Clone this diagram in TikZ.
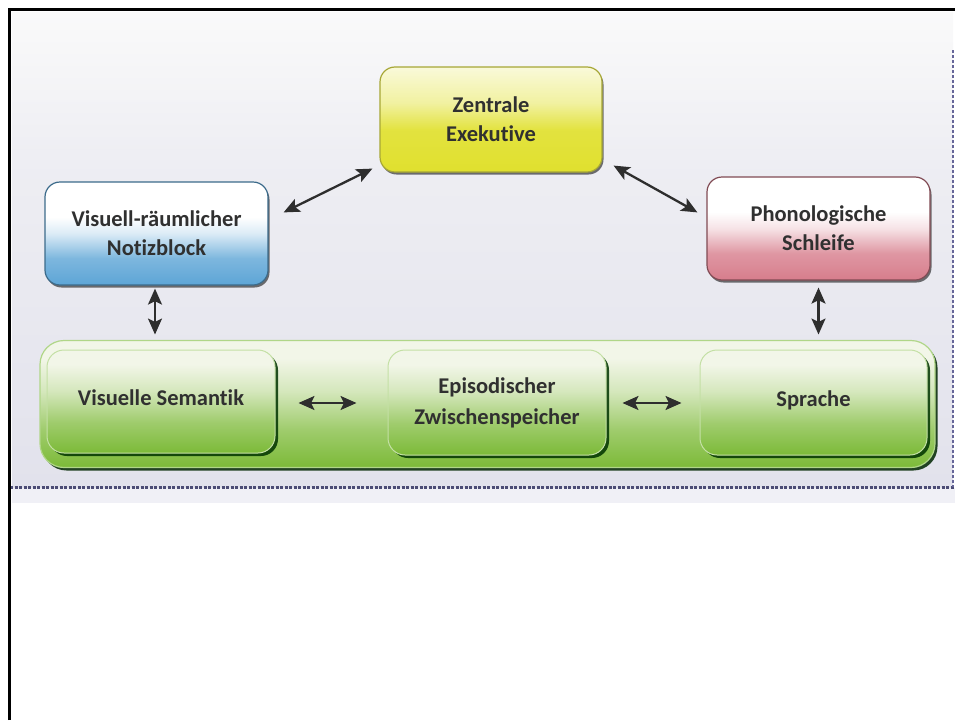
\documentclass[tikz,border=0pt]{standalone}
\usepackage{fontspec}
\setmainfont[Ligatures={NoCommon}]{Carlito}
\usetikzlibrary{arrows.meta,calc,shadows}
\definecolor{txt}{HTML}{303030}
\definecolor{yelB}{HTML}{E0E02E}
\definecolor{bluB}{HTML}{5DA5D6}
\definecolor{pnkB}{HTML}{D77D8C}
\definecolor{grnB}{HTML}{7CBA38}
\definecolor{grnT}{HTML}{F2F6E8}
\definecolor{bgT}{HTML}{FAFAFA}
\definecolor{bgB}{HTML}{E2E2EC}
\definecolor{arr}{HTML}{2E2E2E}
\pgfdeclareverticalshading{shyel}{100bp}{color(0bp)=(yelB); color(25bp)=(yelB); color(45bp)=(yelB!92!white); color(58bp)=(yelB!45!white); color(75bp)=(yelB!18!white); color(100bp)=(yelB!18!white)}
\pgfdeclareverticalshading{shblu}{100bp}{color(0bp)=(bluB); color(25bp)=(bluB); color(38bp)=(bluB!80!white); color(50bp)=(bluB!22!white); color(58bp)=(white); color(100bp)=(white)}
\pgfdeclareverticalshading{shpnk}{100bp}{color(0bp)=(pnkB); color(25bp)=(pnkB); color(38bp)=(pnkB!80!white); color(50bp)=(pnkB!22!white); color(58bp)=(white); color(100bp)=(white)}
\pgfdeclareverticalshading{shgrn}{100bp}{color(0bp)=(grnB); color(25bp)=(grnB); color(40bp)=(grnB!70!grnT); color(55bp)=(grnB!25!grnT); color(68bp)=(grnT); color(100bp)=(grnT)}
\pgfdeclareverticalshading{shbg}{100bp}{color(0bp)=(bgB); color(25bp)=(bgB); color(60bp)=(bgB!50!bgT); color(75bp)=(bgT); color(100bp)=(bgT)}
\tikzset{
  boxtxt/.style={align=center, text=txt, font=\fontsize{22.5}{29}\selectfont\bfseries},
  topbox/.style={boxtxt, rounded corners=15pt, line width=1.2pt,
    drop shadow={shadow xshift=1.5pt, shadow yshift=-2.5pt, fill=black, opacity=.55}},
  inbox/.style={boxtxt, shading=shgrn, draw=grnB!45!white, line width=1pt, rounded corners=17pt,
    drop shadow={shadow xshift=3pt, shadow yshift=-3pt, fill=black!80!green, opacity=.85}},
  dbl/.style={arr, line width=2.3pt, {Stealth[length=16pt,width=14pt,inset=3.5pt]}-{Stealth[length=16pt,width=14pt,inset=3.5pt]}},
}
\begin{document}
\begin{tikzpicture}[x=1pt,y=-1pt]
\useasboundingbox (0,0) rectangle (955,720);
\fill[white] (0,0) rectangle (955,720);
% background panel
\shade[shading=shbg] (12,12) rectangle (953,487);
\fill[bgB!50!white] (12,488) rectangle (955,503);
\draw[black!60!blue!40!gray, line width=2.5pt, dash pattern=on 3pt off 1.5pt] (10,487.5) -- (955,487.5);
\draw[gray!80!blue, line width=1.5pt, dash pattern=on 3pt off 2pt] (953,50) -- (953,487);
% frame
\draw[line width=3pt] (9.5,720) -- (9.5,9.5) -- (955,9.5);
% top boxes
\node[topbox, shading=shyel, draw=yelB!70!black!90, minimum width=222pt, minimum height=105pt] (zen) at (491,119.5) {Zentrale\\Exekutive};
\node[topbox, shading=shblu, draw=bluB!65!black, minimum width=223pt, minimum height=103pt] (vis) at (156.5,233.5) {Visuell-räumlicher\\Notizblock};
\node[topbox, shading=shpnk, draw=pnkB!60!black, minimum width=223pt, minimum height=103pt] (phon) at (818.5,228.5) {Phonologische\\Schleife};
% green panel
\node[shading=shgrn, draw=grnB!60!white, line width=1.2pt, rounded corners=24pt, minimum width=895pt, minimum height=127pt,
  drop shadow={shadow xshift=2.5pt, shadow yshift=-3pt, fill=black!85!green, opacity=.85}] (panel) at (487.5,404) {};
\node[inbox, minimum width=228pt, minimum height=103pt] (sem) at (161,401.5) {\raisebox{8pt}{Visuelle Semantik}};
\node[inbox, minimum width=218pt, minimum height=105pt] (epi) at (497,402.5) {\raisebox{2pt}{Episodischer}\\Zwischenspeicher};
\node[inbox, minimum width=227pt, minimum height=105pt] (spr) at (813.5,402.5) {\raisebox{8pt}{Sprache}};
% arrows
\draw[dbl] ($(vis.north east)+(15,31)$) -- ($(zen.south west)+(-7,-4)$);
\draw[dbl] ($(zen.south east)+(11,-7)$) -- ($(phon.north west)+(-9,36)$);
\draw[dbl] ($(vis.south)+(-1.5,3)$) -- ($(sem.north)+(-6,-15)$);
\draw[dbl] ($(phon.south)+(0,7)$) -- ($(spr.north)+(5,-15)$);
\draw[dbl] ($(sem.east)+(23,1.5)$) -- ($(epi.west)+(-31,0.5)$);
\draw[dbl] ($(epi.east)+(16,0.5)$) -- ($(spr.west)+(-18,0.5)$);
\end{tikzpicture}
\end{document}
